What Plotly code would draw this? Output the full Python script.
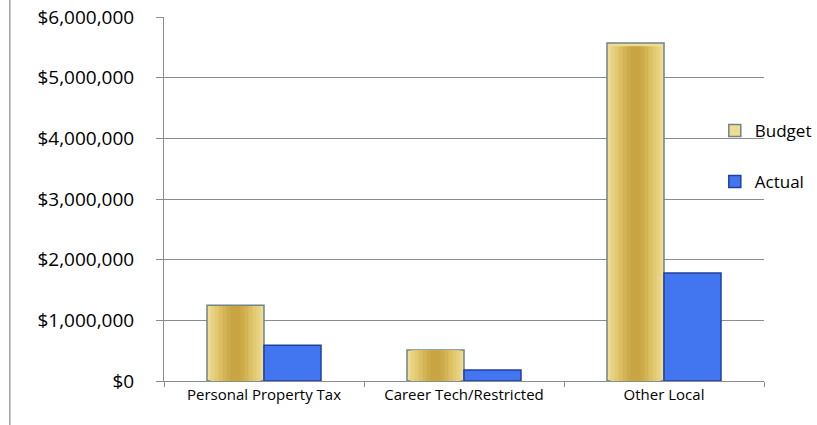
import plotly.graph_objects as go

# Revenue by local source
categories = ["Personal Property Tax", "Career Tech/Restricted", "Other Local"]
budget = [1250000, 510000, 5570000]
actual = [590000, 180000, 1780000]
y_ticks = [0, 1000000, 2000000, 3000000, 4000000, 5000000, 6000000]
y_tick_labels = ["$0", "$1,000,000", "$2,000,000", "$3,000,000",
                 "$4,000,000", "$5,000,000", "$6,000,000"]

BAR_W = 0.285
FONT = "'Open Sans', Lato, sans-serif"

fig = go.Figure()

# Budget bars: outer shell with light edges, progressively darker gold core
fig.add_trace(go.Bar(
    name="Budget", x=categories, y=budget, width=BAR_W, offset=-BAR_W,
    marker=dict(color="#EEDC94", line=dict(color="#6F8585", width=1.5)),
    hoverinfo="skip", legendgroup="b",
))
core_layers = [(0.25, "#E8D282"), (0.21, "#E2C972"), (0.17, "#DBBF63"),
               (0.13, "#D4B556"), (0.09, "#CDAB4A"), (0.05, "#C8A442")]
for w, c in core_layers:
    fig.add_trace(go.Bar(
        x=categories, y=[v * 0.99 for v in budget], width=w,
        offset=-BAR_W + (BAR_W - w) / 2,
        marker=dict(color=c, line=dict(width=0)),
        showlegend=False, hoverinfo="skip",
    ))

# Actual bars
fig.add_trace(go.Bar(
    name="Actual", x=categories, y=actual, width=BAR_W, offset=0,
    marker=dict(color="#4275F0", line=dict(color="#21409E", width=1.5)),
    hoverinfo="skip", legendgroup="a",
))

fig.update_layout(
    width=817, height=425,
    margin=dict(l=164, r=53, t=17, b=44, autoexpand=False),
    barmode="overlay",
    plot_bgcolor="white", paper_bgcolor="white",
    font=dict(family=FONT, color="#000000"),
    showlegend=True,
    legend=dict(
        x=0.918, y=0.617, xanchor="left", yanchor="middle",
        bgcolor="rgba(0,0,0,0)", font=dict(size=17),
        tracegroupgap=26, traceorder="grouped",
        itemwidth=30,
    ),
)

fig.update_xaxes(
    showgrid=False, showline=True, linecolor="#8C8C8C", linewidth=1,
    ticks="outside", tickson="boundaries", ticklen=5, tickcolor="#8C8C8C",
    tickfont=dict(size=15, family=FONT), fixedrange=True,
)
fig.update_yaxes(
    range=[0, 6000000], tickvals=y_ticks, ticktext=y_tick_labels,
    showgrid=True, gridcolor="#8C8C8C", gridwidth=1,
    showline=True, linecolor="#8C8C8C", linewidth=1,
    ticks="outside", ticklen=7, tickcolor="#8C8C8C",
    ticklabelstandoff=18,
    tickfont=dict(size=19, family=FONT), zeroline=False, fixedrange=True,
)

# thin frame line on the left edge of the slide area
fig.add_shape(type="line", xref="paper", yref="paper",
              x0=-0.257, x1=-0.257, y0=-0.2, y1=1.1,
              line=dict(color="#A0A0A0", width=1.5))

fig.write_html("out.html")
